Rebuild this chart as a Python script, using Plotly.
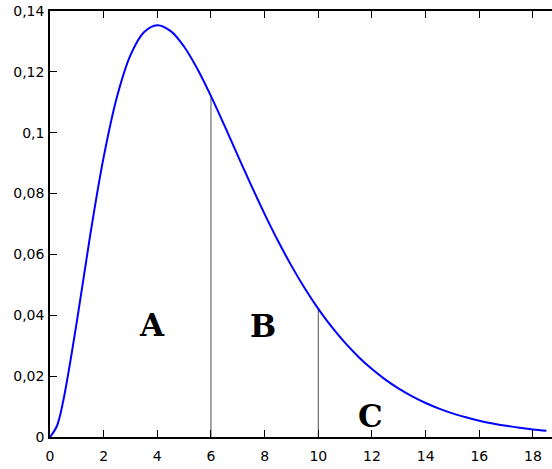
import plotly.graph_objects as go

# Density curve values
x_vals = [0, 0.25, 0.5, 1, 1.5, 2, 2.5, 3, 3.5, 4, 4.5, 5, 5.5, 6, 6.5, 7, 7.5, 8, 8.5, 9, 9.5,
          10, 10.5, 11, 11.5, 12, 12.5, 13, 13.5, 14, 14.5, 15, 15.5, 16, 16.5, 17, 17.5, 18, 18.5]
y_vals = [0, 0.00345, 0.01217, 0.03791, 0.06643, 0.09197, 0.11191, 0.12551, 0.13304, 0.13534,
          0.13340, 0.12826, 0.12086, 0.11202, 0.10239, 0.09248, 0.08268, 0.07326, 0.06441,
          0.05624, 0.04880, 0.04211, 0.03616, 0.03091, 0.02631, 0.02231, 0.01885, 0.01588,
          0.01334, 0.01117, 0.00933, 0.00778, 0.00647, 0.00537, 0.00445, 0.00368, 0.00303,
          0.00250, 0.00206]

# Region boundaries
boundary_x = [6, 10]
boundary_y = [0.11202, 0.04211]

# Region labels
region_labels = ["A", "B", "C"]
label_x = [3.80, 7.94, 11.96]
label_y = [0.0367, 0.0366, 0.0068]

x_tickvals = [0, 2, 4, 6, 8, 10, 12, 14, 16, 18]
y_tickvals = [0, 0.02, 0.04, 0.06, 0.08, 0.1, 0.12, 0.14]
y_ticktext = ["0", "0,02", "0,04", "0,06", "0,08", "0,1", "0,12", "0,14"]

fig = go.Figure()

for bx, by in zip(boundary_x, boundary_y):
    fig.add_trace(go.Scatter(x=[bx, bx], y=[0, by], mode="lines",
                             line=dict(color="#4d4d4d", width=1), hoverinfo="skip"))

fig.add_trace(go.Scatter(x=x_vals, y=y_vals, mode="lines", line_shape="spline",
                         line=dict(color="#0000ff", width=2)))

for t, lx, ly in zip(region_labels, label_x, label_y):
    fig.add_annotation(x=lx, y=ly, text=t, showarrow=False,
                       font=dict(family="DejaVu Serif", size=31, color="black", weight="bold"),
                       xanchor="center", yanchor="middle")

fig.update_layout(
    width=552, height=469,
    margin=dict(l=50, r=0, t=11, b=32, autoexpand=False),
    paper_bgcolor="white", plot_bgcolor="white",
    showlegend=False,
    font=dict(family="DejaVu Sans", size=14, color="black"),
)
fig.update_xaxes(range=[0, 18.71], tickvals=x_tickvals, ticks="inside", ticklen=7,
                 tickcolor="black", showline=True, linecolor="black", linewidth=1.5,
                 mirror="ticks", showgrid=False, zeroline=False, automargin=False,
                 ticklabelstandoff=5)
fig.update_yaxes(range=[0, 0.14], tickvals=y_tickvals, ticktext=y_ticktext,
                 ticks="inside", ticklen=7, tickcolor="black", showline=True,
                 linecolor="black", linewidth=1.5, showgrid=False, zeroline=False,
                 automargin=False, ticklabelstandoff=1)

fig.write_html("out.html", config={"displayModeBar": False},
               post_script="document.body.style.margin='0';")
